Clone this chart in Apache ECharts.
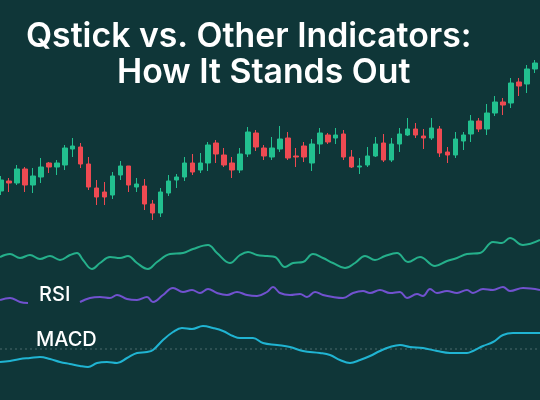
<!DOCTYPE html>
<html>
<head>
<meta charset="utf-8">
<script src="https://cdn.jsdelivr.net/npm/echarts@6/dist/echarts.min.js"></script>
<style>
  html, body { margin: 0; padding: 0; background: #0f3638; }
  #chart { width: 540px; height: 400px; }
</style>
</head>
<body>
<div id="chart"></div>
<script>
  // candle data (open, close, low, high)
  var candleOpen  = [109,119,117,131,115,123,137,133,135,151,153,136,112,108,105,125,134,113,114,96,87,107,120,123,137,130,137,157,145,137,130,146,167,152,143,151,162,144,154,137,156,165,162,166,143,133,135,144,157,140,156,165,171,164,162,171,148,145,159,166,179,171,187,198,197,218,216,231]
  var candleClose = [120,117,131,115,124,133,133,137,152,154,136,113,103,103,124,134,115,116,96,87,108,119,123,137,128,137,155,146,135,130,146,168,153,144,152,161,142,143,143,156,167,158,165,143,133,134,144,156,140,156,166,171,165,162,172,147,145,161,165,179,171,187,198,195,217,214,231,237]
  var candleLow   = [105,108,115,108,107,117,127,125,130,143,132,110,95,95,101,120,108,108,90,80,83,104,112,119,125,127,129,137,133,122,127,143,149,140,140,148,140,133,138,129,146,156,156,140,132,126,133,143,138,138,148,164,162,151,160,143,137,142,150,158,168,165,184,185,192,204,207,227]
  var candleHigh  = [124,122,135,133,132,142,138,140,155,162,157,143,120,118,128,139,134,122,121,100,112,125,126,143,146,147,158,160,152,143,152,173,170,155,163,174,168,152,158,161,172,167,172,170,150,142,153,163,166,162,172,182,177,171,182,174,153,168,168,185,182,196,204,202,222,222,235,240]

  // indicator lines: [day, level]
  var trendLine = [[0,143],[10,146],[20,142],[30,145],[40,141],[50,144],[60,140],[70,145],[77,147],[83,140],[92,131],[100,137],[110,143],[120,142],[128,144],[137,137],[148,131],[157,138],[170,146],[183,147],[193,151],[208,155],[217,147],[230,137],[240,145],[248,148],[257,145],[267,144],[275,143],[285,133],[293,137],[303,138],[313,146],[323,142],[333,137],[345,132],[355,137],[365,144],[375,140],[385,144],[397,147],[408,138],[420,143],[435,134],[447,139],[457,142],[467,146],[480,147],[493,158],[502,157],[510,162],[523,155],[540,160]]
  var rsiLine = [[0,100],[10,102],[20,98],[28,97],[45,'-'],[80,98],[90,102],[100,103],[110,102],[117,105],[127,101],[137,100],[147,103],[153,98],[163,105],[173,112],[183,108],[192,110],[200,107],[208,111],[217,107],[227,105],[237,108],[247,105],[257,104],[267,108],[273,113],[280,107],[290,105],[300,106],[307,103],[315,108],[323,105],[333,103],[343,102],[353,107],[363,109],[370,107],[380,110],[390,107],[400,108],[407,102],[417,106],[423,104],[430,111],[437,107],[447,109],[457,107],[467,110],[473,107],[483,111],[493,110],[503,113],[510,109],[523,112],[540,110]]
  var macdLine = [[0,38],[10,39],[20,41],[30,42],[40,43],[50,41],[60,38],[70,36],[80,34],[88,33],[97,37],[107,38],[117,37],[127,42],[137,47],[147,48],[153,50],[163,60],[173,68],[182,72],[192,71],[203,74],[213,72],[223,69],[233,64],[240,62],[253,62],[263,57],[277,55],[290,53],[303,49],[320,47],[330,45],[340,40],[350,37],[360,40],[370,44],[380,49],[390,53],[400,55],[410,53],[423,52],[437,49],[450,47],[467,47],[473,49],[483,54],[493,58],[503,65],[513,67],[540,67]]
  var zeroLevel = 51

  var candleDays = candleOpen.map(function(v, i){ return i })
  var candles = candleOpen.map(function(o, i){
    return [o, candleClose[i], candleLow[i], candleHigh[i]]
  })

  var chart = echarts.init(document.getElementById('chart'))
  chart.setOption({
    backgroundColor: '#0f3638',
    animation: false,
    grid: [
      { left: 1, right: 5, top: 0, height: 300 },
      { left: 0, right: 0, top: 0, bottom: 0 }
    ],
    xAxis: [
      { type: 'category', gridIndex: 0, data: candleDays, boundaryGap: false, show: false },
      { type: 'value', gridIndex: 1, min: 0, max: 540, show: false }
    ],
    yAxis: [
      { type: 'value', gridIndex: 0, min: 0, max: 300, show: false },
      { type: 'value', gridIndex: 1, min: 0, max: 400, show: false }
    ],
    series: [
      {
        type: 'candlestick',
        xAxisIndex: 0, yAxisIndex: 0,
        data: candles,
        barWidth: 5,
        itemStyle: {
          color: '#22c08f', color0: '#ee4a52',
          borderColor: '#22c08f', borderColor0: '#ee4a52',
          borderWidth: 1
        }
      },
      {
        type: 'line', xAxisIndex: 1, yAxisIndex: 1,
        data: [[0, zeroLevel], [540, zeroLevel]],
        symbol: 'none',
        lineStyle: { color: '#4d6b6c', width: 1, type: [2, 3] }
      },
      {
        type: 'line', xAxisIndex: 1, yAxisIndex: 1, data: trendLine,
        smooth: 0.4, symbol: 'none',
        lineStyle: { color: '#25b08b', width: 2 }
      },
      {
        type: 'line', xAxisIndex: 1, yAxisIndex: 1, data: rsiLine,
        smooth: 0.4, symbol: 'none', connectNulls: false,
        lineStyle: { color: '#7152cf', width: 2 }
      },
      {
        type: 'line', xAxisIndex: 1, yAxisIndex: 1, data: macdLine,
        smooth: 0.4, symbol: 'none',
        lineStyle: { color: '#20b4d2', width: 2 }
      }
    ],
    graphic: [
      { type: 'text', left: 26, top: 20, z: 10, style: { text: 'Qstick vs. Other Indicators:', fill: '#fff', font: '600 33.8px Inter' } },
      { type: 'text', left: 117, top: 56, z: 10, style: { text: 'How It Stands Out', fill: '#fff', font: '600 33.8px Inter' } },
      { type: 'text', left: 39, top: 285, z: 10, style: { text: 'RSI', fill: '#fff', font: '500 20px Inter' } },
      { type: 'text', left: 36, top: 330, z: 10, style: { text: 'MACD', fill: '#fff', font: '500 20px Inter' } }
    ]
  })
</script>
</body>
</html>
